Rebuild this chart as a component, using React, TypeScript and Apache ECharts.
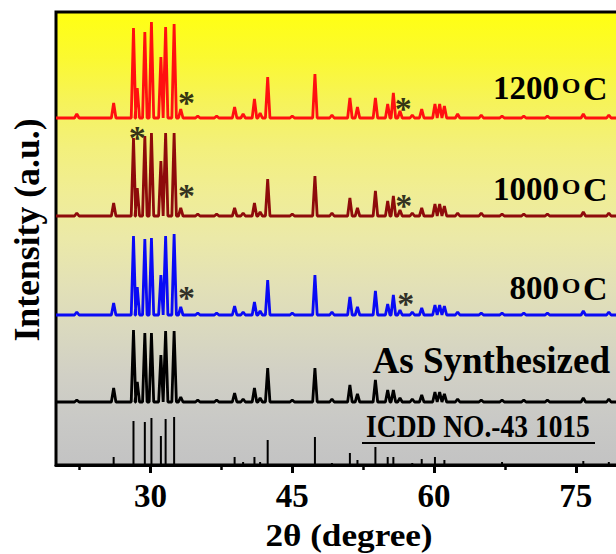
import React, { useEffect, useRef } from "react";
import * as echarts from "echarts";

// ---------- data ----------
const xMin = 20;
const xMax = 80;
const majorTicks = [30, 45, 60, 75];
const minorTicks = [22.5, 37.5, 52.5, 67.5];

const peakPositions = [22.2, 26.1, 28.2, 28.6, 29.4, 30.1, 31.1, 31.6, 32.5, 33.2, 35.0, 37.0, 38.9, 39.8, 41.0, 41.6, 42.4, 45.0, 47.4, 49.2, 51.1, 51.9, 53.8, 55.1, 55.7, 56.4, 57.7, 58.7, 60.1, 60.6, 61.1, 62.5, 65.0, 67.2, 69.5, 72.0, 75.8, 78.5];

const heights1200 = [4, 15, 90, 30, 86, 96, 61, 91, 94, 9, 2, 2, 11, 4, 19, 5, 41, 2, 44, 3, 20, 11, 20, 14, 25, 7, 3, 9, 14, 14, 12, 4, 3, 2, 2, 2, 4, 3];
const heights1000 = [3, 13, 78, 28, 80, 83, 55, 83, 83, 8, 2, 2, 8, 3, 13, 4, 37, 2, 40, 3, 18, 8, 25, 15, 20, 6, 3, 8, 12, 12, 10, 3, 3, 2, 2, 2, 4, 3];
const heights800 = [3, 12, 79, 28, 76, 77, 40, 79, 81, 8, 2, 2, 9, 3, 13, 4, 35, 2, 40, 3, 18, 8, 24, 11, 20, 5, 3, 7, 10, 10, 9, 3, 2, 2, 2, 2, 4, 3];
const heightsAsSynth = [2, 14, 72, 20, 69, 69, 47, 71, 71, 5, 2, 2, 9, 3, 14, 4, 34, 2, 34, 3, 17, 8, 22, 12, 12, 4, 3, 7, 10, 10, 8, 3, 2, 2, 2, 2, 4, 3];
const heightsICDD = [0, 8, 44, 0, 43, 47, 29, 46, 48, 0, 0, 0, 8, 3, 8, 3, 25, 0, 28, 2, 12, 5, 18, 8, 8, 0, 2, 6, 8, 0, 5, 0, 0, 3, 0, 0, 4, 3];

const offset1200 = 347;
const offset1000 = 249;
const offset800 = 150;
const offsetAsSynth = 63;

const asteriskPoints = [
  [33.8, 363], [56.75, 357],
  [28.6, 328], [33.8, 270], [56.8, 260],
  [33.8, 168], [57.0, 162],
];

const tempLabels = ["1200", "1000", "800"];

// ---------- helpers ----------
const peakHalfWidth = 0.24;
function buildTrace(offset: number, heights: number[]) {
  const pts: number[][] = [[xMin, offset]];
  peakPositions.forEach((p, i) => {
    const h = heights[i];
    if (!h) return;
    pts.push([p - peakHalfWidth, offset], [p, offset + h], [p + peakHalfWidth, offset]);
  });
  pts.push([xMax, offset]);
  return pts;
}

const FONT = "'Liberation Serif', 'Times New Roman', serif";

function tempLabel(num: string, cy: number) {
  return {
    type: "group",
    x: 0,
    y: cy,
    children: [
      { type: "text", x: 559, y: 0, style: { text: num, fontSize: 33, fontWeight: "bold", fontFamily: FONT, fill: "#000", align: "right", verticalAlign: "middle" } },
      { type: "text", x: 571, y: -2, scaleX: 1.2, style: { text: "O", fontSize: 20, fontWeight: "bold", fontFamily: FONT, fill: "#000", align: "center", verticalAlign: "middle" } },
      { type: "text", x: 583, y: 0, style: { text: "C", fontSize: 34, fontWeight: "bold", fontFamily: FONT, fill: "#000", align: "left", verticalAlign: "middle" } },
    ],
  };
}

export default function App() {
  const ref = useRef<HTMLDivElement>(null);
  useEffect(() => {
    const chart = echarts.init(ref.current!, null, { renderer: "svg" });
    const lineSeries = (name: string, data: number[][], color: string) => ({
      name,
      type: "line",
      data,
      showSymbol: false,
      symbol: "none",
      lineStyle: { color, width: 2.8 },
      z: 3,
    });
    chart.setOption({
      animation: false,
      grid: {
        left: 56,
        top: 12,
        right: 17,
        bottom: 89,
        show: true,
        borderColor: "#000",
        borderWidth: 3,
        backgroundColor: new echarts.graphic.LinearGradient(0, 0, 0, 1, [
          { offset: 0, color: "#FFFF12" },
          { offset: 0.1, color: "#FBF930" },
          { offset: 0.2, color: "#F6F35A" },
          { offset: 0.3, color: "#F3F07C" },
          { offset: 0.4, color: "#F0ED95" },
          { offset: 0.5, color: "#EBE9A8" },
          { offset: 0.6, color: "#E3E1B6" },
          { offset: 0.7, color: "#DAD9BF" },
          { offset: 0.8, color: "#D1D0C5" },
          { offset: 0.9, color: "#C9C9C6" },
          { offset: 1, color: "#C3C3C3" },
        ]),
      },
      xAxis: [
        {
          type: "value",
          min: xMin,
          max: xMax,
          position: "bottom",
          axisLine: { show: true, lineStyle: { color: "#000", width: 3 } },
          axisTick: { show: true, customValues: majorTicks, length: 8, lineStyle: { color: "#000", width: 3 } },
          axisLabel: { customValues: majorTicks, margin: 14, fontSize: 33, fontWeight: "bold", fontFamily: FONT, color: "#000" },
          splitLine: { show: false },
        },
        {
          type: "value",
          min: xMin,
          max: xMax,
          position: "bottom",
          axisLine: { show: false },
          axisTick: { show: true, customValues: minorTicks, length: 5, lineStyle: { color: "#000", width: 2.5 } },
          axisLabel: { show: false },
          splitLine: { show: false },
        },
      ],
      yAxis: { type: "value", min: 0, max: 453, show: false },
      series: [
        {
          name: "ICDD",
          type: "bar",
          data: peakPositions.map((p, i) => [p, heightsICDD[i]]).filter((d) => d[1] > 0),
          barWidth: 2,
          itemStyle: { color: "#000" },
          z: 3,
        },
        lineSeries("As Synthesized", buildTrace(offsetAsSynth, heightsAsSynth), "#000000"),
        lineSeries("800", buildTrace(offset800, heights800), "#0A0AF5"),
        lineSeries("1000", buildTrace(offset1000, heights1000), "#8E0B0B"),
        lineSeries("1200", buildTrace(offset1200, heights1200), "#FF1010"),
        {
          name: "stars",
          type: "scatter",
          data: asteriskPoints,
          symbolSize: 0,
          z: 5,
          label: {
            show: true,
            position: "inside",
            formatter: "*",
            fontSize: 34,
            fontWeight: "bold",
            fontFamily: FONT,
            color: "#000",
          },
        },
      ],
      graphic: [
        tempLabel(tempLabels[0], 88),
        tempLabel(tempLabels[1], 189),
        tempLabel(tempLabels[2], 288),
        { type: "text", x: 610, y: 360, style: { text: "As Synthesized", fontSize: 37, fontWeight: "bold", fontFamily: FONT, fill: "#000", align: "right", verticalAlign: "middle" } },
        { type: "text", x: 478, y: 426, scaleY: 1.12, style: { text: "ICDD NO.-43 1015", fontSize: 27.5, fontWeight: "bold", fontFamily: FONT, fill: "#000", align: "center", verticalAlign: "middle" } },
        { type: "line", shape: { x1: 362, y1: 443, x2: 595, y2: 443 }, style: { stroke: "#000", lineWidth: 2 } },
        { type: "text", x: 349, y: 535, scaleX: 1.1, style: { text: "2θ (degree)", fontSize: 32, fontWeight: "bold", fontFamily: FONT, fill: "#000", align: "center", verticalAlign: "middle" } },
        { type: "text", x: 27, y: 230, rotation: Math.PI / 2, scaleX: 1.02, style: { text: "Intensity (a.u.)", fontSize: 35, fontWeight: "bold", fontFamily: FONT, fill: "#000", align: "center", verticalAlign: "middle" } },
      ],
    });
    return () => chart.dispose();
  }, []);
  return (
    <div style={{ position: "absolute", left: 0, top: 0, width: 616, height: 554, overflow: "hidden", background: "#fff" }}>
      <div ref={ref} style={{ width: 640, height: 554 }} />
    </div>
  );
}
